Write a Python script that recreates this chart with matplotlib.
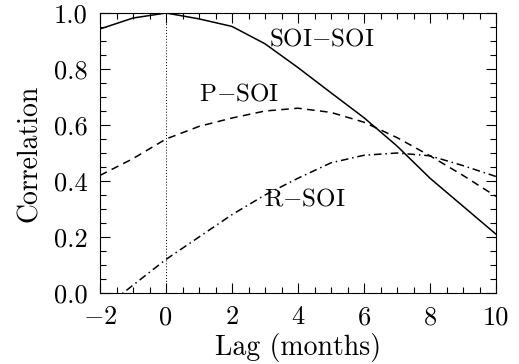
import matplotlib
matplotlib.use("Agg")
import matplotlib.pyplot as plt
from matplotlib.ticker import MultipleLocator

plt.rcParams["font.family"] = "cmr10"
plt.rcParams["mathtext.fontset"] = "cm"
plt.rcParams["axes.formatter.use_mathtext"] = True

lag = [-2, -1, 0, 1, 2, 3, 4, 5, 6, 7, 8, 9, 10]

# values
soi_soi = [0.943, 0.982, 1.0, 0.979, 0.952, 0.89, 0.805, 0.715, 0.626, 0.525, 0.41, 0.31, 0.21]
p_soi = [0.42, 0.48, 0.55, 0.595, 0.625, 0.65, 0.66, 0.645, 0.61, 0.555, 0.49, 0.42, 0.345]
r_soi = [-0.065, 0.028, 0.12, 0.20, 0.28, 0.35, 0.41, 0.465, 0.492, 0.50, 0.49, 0.455, 0.416]

labels = ["SOI$-$SOI", "P$-$SOI", "R$-$SOI"]
label_x = [4.73, 2.2, 4.2]
label_y = [0.905, 0.71, 0.335]

fig = plt.figure(figsize=(5.19, 3.64), dpi=100)
ax = fig.add_axes([0.1927, 0.195, 0.763, 0.7693])

ax.plot(lag, soi_soi, color="black", lw=1.1, linestyle="-")
ax.plot(lag, p_soi, color="black", lw=1.1, linestyle=(0, (5, 3.5)))
ax.plot(lag, r_soi, color="black", lw=1.1, linestyle=(0, (5, 2.5, 1, 2.5)))
ax.axvline(0, color="black", lw=0.7, linestyle=(0, (1, 2)))

for t, x, y in zip(labels, label_x, label_y):
    ax.text(x, y, t, fontsize=18, ha="center", va="center")

ax.set_xlim(-2, 10)
ax.set_ylim(0, 1.0)
ax.xaxis.set_major_locator(MultipleLocator(2))
ax.xaxis.set_minor_locator(MultipleLocator(0.5))
ax.yaxis.set_major_locator(MultipleLocator(0.2))
ax.yaxis.set_minor_locator(MultipleLocator(0.05))
ax.yaxis.set_major_formatter(plt.FuncFormatter(lambda v, p: "%.1f" % v))
ax.xaxis.set_major_formatter(plt.FuncFormatter(lambda v, p: "$%d$" % v if v < 0 else "%d" % v))

ax.tick_params(which="both", direction="in", top=True, right=True, labelsize=19, width=0.8)
ax.tick_params(which="major", length=7, pad=9)
ax.tick_params(which="minor", length=4)
for s in ax.spines.values():
    s.set_linewidth(0.8)

ax.set_xlabel("Lag (months)", fontsize=20, labelpad=3)
ax.set_ylabel("Correlation", fontsize=20, labelpad=8)

# end labels sit inside the axis range, like the original
fig.canvas.draw()
ylabs = ax.get_yticklabels()
ylabs[0].set_va("bottom")
ylabs[-1].set_va("top")

fig.savefig("out.png", dpi=100)
